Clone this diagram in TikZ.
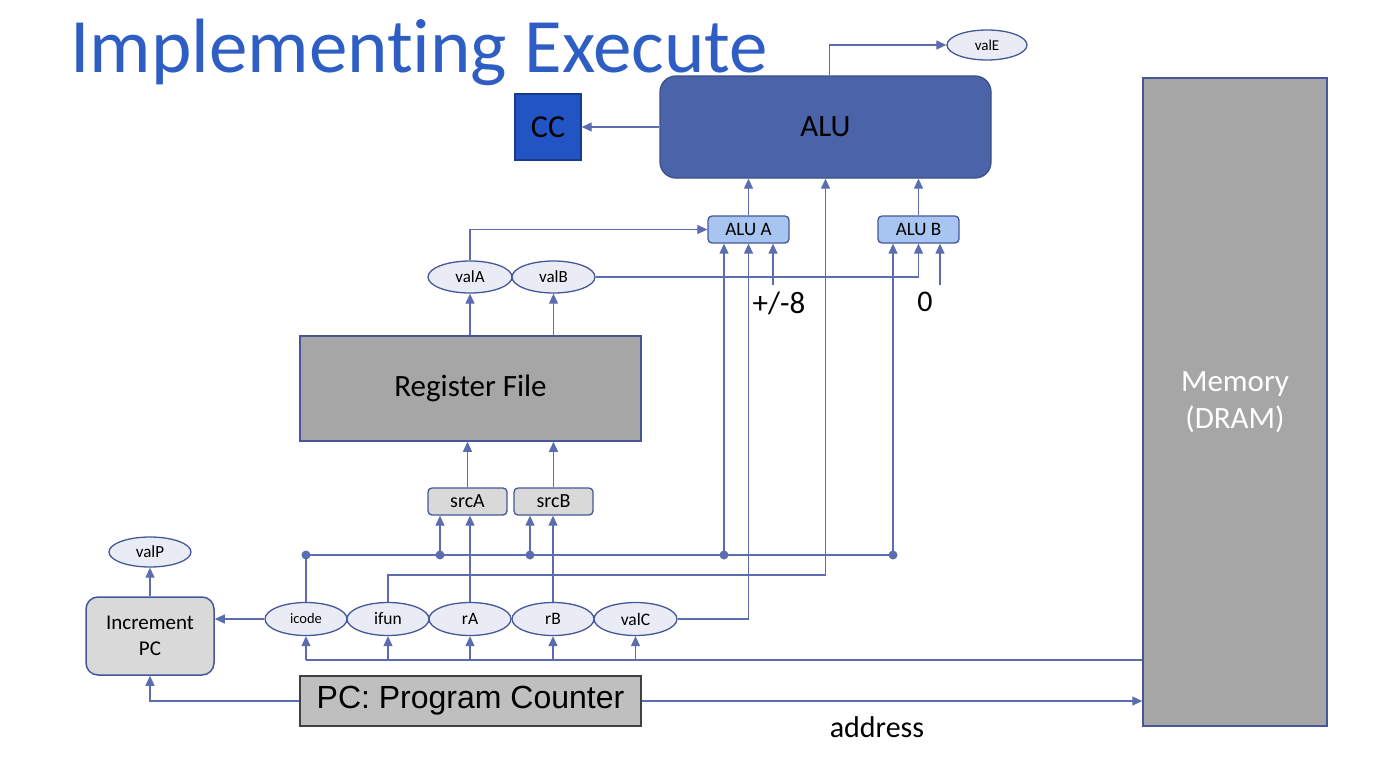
\documentclass[tikz,border=0pt]{standalone}
\usepackage{fontspec}
\setmainfont{Carlito}[Ligatures=NoCommon]
\newfontfamily\arialfont{Liberation Sans}
\usepackage{tikz}
\usetikzlibrary{positioning, arrows.meta, shapes.geometric}

\definecolor{titleblue}{HTML}{2E5EC4}
\definecolor{wirecol}{HTML}{5B6DB0}
\definecolor{edgecol}{HTML}{45579A}
\definecolor{alufill}{HTML}{4B63A8}
\definecolor{ccfill}{HTML}{2254C4}
\definecolor{muxfill}{HTML}{A8C4F0}
\definecolor{valfill}{HTML}{E9ECF4}

\newcommand{\fs}[1]{\fontsize{#1}{#1}\selectfont}

\begin{document}
\begin{tikzpicture}[x=1pt, y=-1pt,
  wire/.style={draw=wirecol, line width=1.2pt},
  tip/.style={-{Triangle[length=10pt,width=9pt]}},
  val/.style={ellipse, draw=edgecol, line width=1.3pt, fill=valfill, inner sep=0pt, minimum height=32pt},
  mux/.style={rectangle, rounded corners=4pt, draw=edgecol, line width=1.3pt, fill=muxfill, minimum width=81pt, minimum height=27pt, font=\fs{19}},
  srcbox/.style={rectangle, rounded corners=4pt, draw=edgecol, line width=1.3pt, fill=black!15, minimum width=79pt, minimum height=27pt, font=\fs{20}},
  graybox/.style={rectangle, draw=edgecol, line width=1.5pt, fill=black!35}]
\useasboundingbox (0,0) rectangle (1388,779);

% title
\node[anchor=base west, inner sep=0pt, text=titleblue, font=\fs{77}] (title) at (70,72) {Implementing Execute};

% execute stage
\node[rectangle, rounded corners=16pt, draw=alufill!80!black, line width=1.3pt, fill=alufill, minimum width=331pt, minimum height=102pt, font=\fs{31}] (alu) at (825.5,127) {ALU};
\node[rectangle, draw=ccfill!70!black, line width=1.3pt, fill=ccfill, minimum width=66pt, minimum height=66pt, font=\fs{32}] (cc) at (548,127) {CC};
\node[val, minimum width=80pt, minimum height=30pt, font=\fs{15}] (valE) at (987,45) {valE};
\node[mux] (aluA) at (748.5,229.5) {ALU A};
\node[mux] (aluB) at (918.5,229.5) {ALU B};
\node[font=\fs{31}] (m8) at (779,303) {+/-8};
\node[font=\fs{30}] (zero) at (925,302) {0};

% decode stage
\node[val, minimum width=84pt, font=\fs{17}] (valA) at (470,277) {valA};
\node[val, minimum width=83pt, font=\fs{17}] (valB) at (553.5,277) {valB};
\node[graybox, minimum width=341pt, minimum height=105pt, font=\fs{31}] (rf) at (470.5,388.5) {Register File};
\node[srcbox] (srcA) at (467.5,501.5) {srcA};
\node[srcbox] (srcB) at (553.5,501.5) {srcB};

% fetch stage
\node[val, minimum width=82pt, minimum height=33pt, font=\fs{14.5}] (icode) at (306,619) {icode};
\node[val, minimum width=82pt, minimum height=33pt, font=\fs{17.5}] (ifun) at (388,619) {ifun};
\node[val, minimum width=82pt, minimum height=33pt, font=\fs{17.5}] (rA) at (470,619) {rA};
\node[val, minimum width=82pt, minimum height=33pt, font=\fs{17.5}] (rB) at (553,619) {rB};
\node[val, minimum width=83pt, minimum height=33pt, font=\fs{17.5}] (valC) at (635.5,619) {valC};
\node[rectangle, rounded corners=12pt, draw=edgecol, line width=1.5pt, fill=black!15, minimum width=128pt, minimum height=78pt, align=center, font=\fs{21}] (inc) at (150,636) {Increment\\[5pt]PC};
\node[val, minimum width=82pt, minimum height=30pt, font=\fs{17}] (valP) at (150,552) {valP};
\node[rectangle, draw=black!75, line width=1.3pt, fill=black!25, minimum width=341pt, minimum height=50pt, font={\arialfont\fs{32}}] (pc) at (470.5,701) {PC: Program Counter};
\node[graybox, minimum width=184pt, minimum height=648pt, align=center, text=white, font=\fs{31}] (mem) at (1235,402) {Memory\\[6pt](DRAM)};
\node[font=\fs{30}] (addr) at (877,727) {address};

% bend points
\coordinate (fbus) at (825.5,575);
\coordinate (m8in) at (773,285);
\coordinate (zin) at (940,285);
\coordinate (bus0) at (306,660);
\coordinate (dI) at (306,555);
\coordinate (dA) at (440,555);
\coordinate (dB) at (530,555);
\coordinate (dE) at (724,555);
\coordinate (dF) at (893,555);

% wires
\draw[wire, tip] (alu.west) -- (cc.east);
\draw[wire, tip] ([xshift=4pt]alu.north) |- (valE.west);
\draw[wire, tip] (aluA.north) -- (aluA.north |- alu.south);
\draw[wire, tip] (aluB.north) -- (aluB.north |- alu.south);
\draw[wire, tip] (ifun.north) |- (fbus) -- (alu.south);
\draw[wire, tip] (valC.east) -| (aluA.south);
\draw[wire, tip] (m8in) -- (m8in |- aluA.south);
\draw[wire, tip] (zin) -- (zin |- aluB.south);
\draw[wire, tip] (valA.north) |- (aluA.west);
\draw[wire, tip] (valB.east) -| (aluB.south);
\draw[wire, tip] (valA.south |- rf.north) -- (valA.south);
\draw[wire, tip] (valB.south |- rf.north) -- (valB.south);
\draw[wire, tip] (srcA.north) -- (srcA.north |- rf.south);
\draw[wire, tip] (srcB.north) -- (srcB.north |- rf.south);
\draw[wire, tip] (rA.north) -- (rA.north |- srcA.south);
\draw[wire, tip] (rB.north) -- (rB.north |- srcB.south);
\draw[wire] (icode.north) -- (dI) -- (dF);
\draw[wire, tip] (dA) -- (dA |- srcA.south);
\draw[wire, tip] (dB) -- (dB |- srcB.south);
\draw[wire, tip] (dE) -- (dE |- aluA.south);
\draw[wire, tip] (dF) -- (dF |- aluB.south);
\foreach \d in {dI,dA,dB,dE,dF}
  \fill[wirecol] (\d) circle (4.5pt);
\draw[wire, tip] (icode.west) -- (icode.west -| inc.east);
\draw[wire, tip] (inc.north) -- (valP.south);
\draw[wire, tip] (pc.west) -| (inc.south);
\draw[wire, tip] (pc.east) -- (pc.east -| mem.west);
\draw[wire] (mem.west |- bus0) -- (bus0);
\foreach \n in {icode,ifun,rA,rB,valC}
  \draw[wire, tip] (\n.south |- bus0) -- (\n.south);
\end{tikzpicture}
\end{document}
